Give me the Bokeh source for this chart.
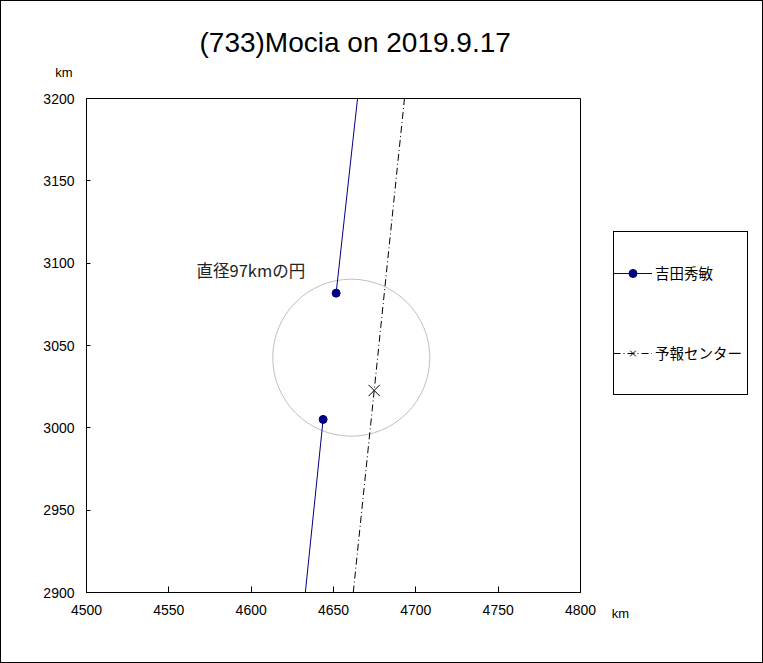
from bokeh.plotting import figure
from bokeh.layouts import column, row
from bokeh.models import Range1d, FixedTicker, Legend, LegendItem, Label, LinearAxis
from bokeh.embed import file_html
from bokeh.resources import INLINE

# ---------------- data ----------------
title_text = "(733)Mocia on 2019.9.17"
unit_text = "km"
x_ticks = [4500, 4550, 4600, 4650, 4700, 4750, 4800]
y_ticks = [2900, 2950, 3000, 3050, 3100, 3150, 3200]
x_limits = [4500, 4800]
y_limits = [2900, 3200]

# observer chord (吉田秀敏): two segments outside the event, with event points
obs_name = "吉田秀敏"
obs_seg_x = [[4651.6, 4664.6], [4643.7, 4632.9]]
obs_seg_y = [[3081.8, 3200.0], [3005.1, 2900.0]]
obs_pt_x = [4651.6, 4643.7]
obs_pt_y = [3081.8, 3005.1]

# prediction (予報センター)
pred_name = "予報センター"
pred_x = [4662.0, 4693.1]
pred_y = [2900.0, 3200.0]
pred_center_x = [4674.7]
pred_center_y = [3022.7]

# reference circle
circle_label = "直径97kmの円"
circle_x = [4660.8]
circle_y = [3042.6]
circle_r = [47.7]
circle_label_x = 4566.8
circle_label_y = 3095.6

# ---------------- styles ----------------
NAVY = "#000080"
PRED_DASH = "7 3 1 3"
TICK_FONT = "Liberation Sans"
JP_FONT = "Noto Sans CJK JP"

# ---------------- layout (page pixels, 1px page border) ----------------
TOP_H = 85                 # header strip: y 1..86
BODY_H = 663 - 2 - TOP_H   # 576
MAIN_W = 600               # x 1..601
SIDE_W = 763 - 2 - MAIN_W  # 161
FRAME_TOP, FRAME_BOTTOM = 98, 592

common = dict(output_backend="svg", toolbar_location=None,
              background_fill_color="white", border_fill_color="white")

# header: title and unit of the vertical axis
top = figure(width=761, height=TOP_H, x_range=Range1d(1, 762), y_range=Range1d(1 + TOP_H, 1),
             x_axis_type=None, y_axis_type=None, min_border=0, **common)
top.outline_line_color = None
top.grid.visible = False
top.add_layout(Label(x=199, y=42, text=title_text, text_font=TICK_FONT,
                     text_font_size="28px", text_color="black",
                     text_baseline="middle", text_align="left"))
top.add_layout(Label(x=63.5, y=72, text=unit_text, text_font=TICK_FONT,
                     text_font_size="13px", text_color="black",
                     text_baseline="middle", text_align="center"))

# main plot
FL, FT, FS = 85, FRAME_TOP - (1 + TOP_H), 494
p = figure(width=MAIN_W, height=BODY_H,
           x_range=Range1d(*x_limits), y_range=Range1d(*y_limits),
           min_border_left=FL, min_border_top=FT,
           min_border_right=MAIN_W - FL - FS, min_border_bottom=BODY_H - FT - FS, **common)
p.outline_line_color = "black"
p.outline_line_alpha = 1
p.grid.visible = False

for ax, ticks, tin, stand in ((p.xaxis, x_ticks, 6, 12), (p.yaxis, y_ticks, 4, 12)):
    ax.ticker = FixedTicker(ticks=ticks)
    ax.major_tick_in = tin
    ax.major_tick_out = 0
    ax.minor_tick_in = 0
    ax.minor_tick_out = 0
    ax.axis_line_color = "black"
    ax.major_tick_line_color = "black"
    ax.major_label_text_font = TICK_FONT
    ax.major_label_text_font_size = "14px"
    ax.major_label_text_color = "black"
    ax.major_label_standoff = stand

p.circle(x=circle_x, y=circle_y, radius=circle_r, fill_alpha=0,
         line_color="#c0c0c0", line_width=1)
p.line(pred_x, pred_y, line_color="black", line_width=1, line_dash=PRED_DASH)
p.scatter(pred_center_x, pred_center_y, marker="x", size=16, line_color="black", line_width=1)
p.multi_line(obs_seg_x, obs_seg_y, line_color=NAVY, line_width=1)
p.scatter(obs_pt_x, obs_pt_y, marker="circle", size=8, fill_color=NAVY, line_color=NAVY)
p.add_layout(Label(x=circle_label_x, y=circle_label_y, text=circle_label,
                   text_font=JP_FONT, text_font_size="16.5px", text_color="#222222",
                   text_baseline="middle", text_align="left"))

# side strip: legend and unit of the horizontal axis (its frame is aligned with the main frame)
side = figure(width=SIDE_W, height=BODY_H,
              x_range=Range1d(1 + MAIN_W, 762), y_range=Range1d(FRAME_BOTTOM, FRAME_TOP),
              x_axis_type=None, y_axis_type=None, min_border=0, **common)
side.outline_line_color = None
side.grid.visible = False
unit_axis = LinearAxis(ticker=FixedTicker(ticks=[620]), major_label_overrides={620: unit_text},
                       axis_line_color=None, major_tick_line_color=None,
                       minor_tick_line_color=None, major_label_standoff=7,
                       major_label_text_font=TICK_FONT, major_label_text_font_size="13px",
                       major_label_text_color="black")
side.add_layout(unit_axis, "below")

# legend sample renderers (one point each, outside the visible area)
leg_obs_line = side.line(x=[0, 1], y=[0, 0], line_color=NAVY, line_width=1)
leg_obs_mark = side.scatter(x=[0], y=[0], marker="circle", fill_color=NAVY, line_color=NAVY)
leg_pred_line = side.line(x=[0, 1], y=[0, 0], line_color="black", line_width=1,
                          line_dash=PRED_DASH)
leg_pred_mark = side.scatter(x=[0], y=[0], marker="x", line_color="black", line_width=1)
leg_box_dummy = side.scatter(x=[0], y=[0], alpha=0)

# legend frame (box): left x=613, top y=233, bottom y=395 in page pixels
box = Legend(items=[LegendItem(label=" ", renderers=[leg_box_dummy])],
             location=(613 - (1 + MAIN_W), FRAME_BOTTOM - 395),
             padding=0, margin=0, spacing=0, glyph_width=133, glyph_height=162,
             label_width=0, label_standoff=0, label_text_font_size="1px",
             border_line_color="black", border_line_width=1, border_line_alpha=1,
             background_fill_color="white", background_fill_alpha=1)
side.add_layout(box)

leg = Legend(items=[LegendItem(label=obs_name, renderers=[leg_obs_line, leg_obs_mark]),
                    LegendItem(label=pred_name, renderers=[leg_pred_line, leg_pred_mark])],
             location=(613 - (1 + MAIN_W), FRAME_BOTTOM - 363), padding=0, margin=0, spacing=59,
             glyph_width=39, glyph_height=20, label_height=20, label_standoff=3,
             label_text_font=JP_FONT, label_text_font_size="14.5px",
             label_text_color="black", border_line_alpha=0, background_fill_alpha=0)
side.add_layout(leg)

layout = column(top, row(p, side), styles={"border": "1px solid black"})

open("out.html", "w").write(file_html(layout, INLINE))
